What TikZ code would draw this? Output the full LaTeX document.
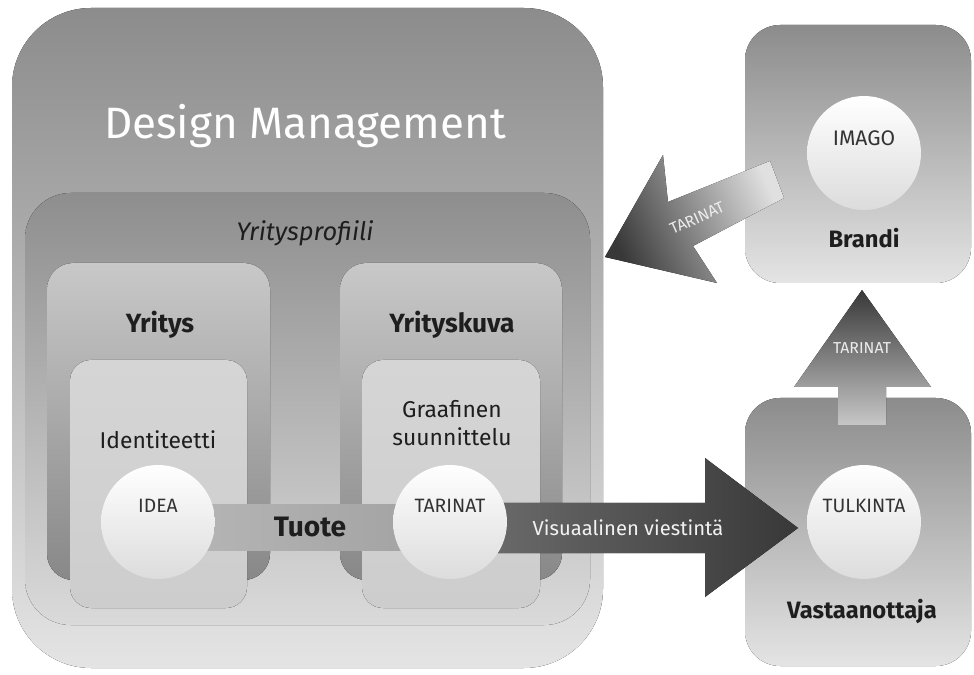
\documentclass[tikz,border=0pt]{standalone}
\usepackage{fontspec}
\setmainfont{Fira Sans}
\usetikzlibrary{calc}

\definecolor{dmTop}{HTML}{8C8C8C}
\definecolor{dmBot}{HTML}{E4E4E4}
\definecolor{profTop}{HTML}{8E8E8E}
\definecolor{profBot}{HTML}{DADADA}
\definecolor{colTop}{HTML}{C8C8C8}
\definecolor{colBot}{HTML}{888888}
\definecolor{inTop}{HTML}{D5D5D5}
\definecolor{inBot}{HTML}{CDCDCD}
\definecolor{ballBot}{HTML}{DCDCDC}
\definecolor{txtDark}{HTML}{1E1E1E}
\definecolor{txtBall}{HTML}{333333}

\begin{document}
\begin{tikzpicture}[x=0.02cm, y=-0.02cm,
  bigbox/.style={rounded corners=45pt, top color=dmTop, bottom color=dmBot},
  profbox/.style={rounded corners=26pt, top color=profTop, bottom color=profBot},
  colbox/.style={rounded corners=15pt, top color=colTop, bottom color=colBot},
  innerbox/.style={rounded corners=12pt, top color=inTop, bottom color=inBot},
  sidebox/.style={rounded corners=20pt, top color=dmTop, bottom color=dmBot},
  ball/.style={circle, minimum size=2.28cm, inner sep=0pt, top color=white, bottom color=ballBot},
  balltext/.style={text=txtBall, font=\fontsize{11}{13}\selectfont},
  heading/.style={text=txtDark, font=\bfseries\fontsize{15}{18}\selectfont},
  subheading/.style={text=txtDark, font=\fontsize{13}{15.5}\selectfont, align=center},
  arrowtext/.style={text=white!85!gray, font=\fontsize{9}{11}\selectfont}]
  \useasboundingbox (0,0) rectangle (974,675);

  % Design Management and the company profile
  \fill[bigbox] (12,8) rectangle (603,668);
  \node[text=white, font=\fontsize{25}{30}\selectfont] (dm) at (305,126) {Design Management};
  \fill[profbox] (25,193) rectangle (590,625);
  \node[text=txtDark, font=\itshape\fontsize{14.5}{17}\selectfont] (profiili) at (305,233) {Yritysprofiili};

  % the two columns
  \fill[colbox] (47,263) rectangle (270,580);
  \fill[colbox] (340,263) rectangle (562,580);
  \fill[innerbox] (70,360) rectangle (247,608);
  \fill[innerbox] (362,360) rectangle (540,608);
  \node[heading] (yritys) at (160,325) {Yritys};
  \node[heading] (kuva) at (452,325) {Yrityskuva};
  \node[subheading] (identiteetti) at (158,440) {Identiteetti};
  \node[subheading] (graafinen) at (452,423) {Graafinen\\suunnittelu};

  % Brandi and Vastaanottaja
  \fill[sidebox] (745,25) rectangle (971,283);
  \fill[sidebox] (745,398) rectangle (971,666);

  \coordinate (ideaC) at (158,522);
  \coordinate (tarinatC) at (450,522);
  \coordinate (tulkintaC) at (864,522);
  \coordinate (imagoC) at (864,153);

  % Tuote
  \fill[left color=white!72!black, right color=white!63!black]
    ($(ideaC)+(0,-17)$) rectangle ($(tarinatC)+(0,28)$);
  \node[heading, font=\bfseries\fontsize{16}{19}\selectfont] (tuote) at (310,527) {Tuote};

  % Visuaalinen viestinta
  \coordinate (vis-tip) at (798,528);
  \fill[left color=white!44!black, right color=white!22!black]
    ($(tarinatC)+(0,-19)$) -- (705,503) -- (705,458) -- (vis-tip)
    -- (705,597) -- (705,553) -- ($(tarinatC)+(0,31)$) -- cycle;
  \node[text=white!90!gray, font=\fontsize{11.5}{14}\selectfont] (visu) at (628,528) {Visuaalinen viestintä};

  % TARINAT up to Brandi
  \coordinate (up-tip) at (862,290);
  \fill[top color=white!22!black, bottom color=white!78!black]
    (up-tip) -- (931,387) -- (886,387) -- (886,425) -- (838,425) -- (838,387) -- (794,387) -- cycle;
  \node[arrowtext] (tarinat2) at (862,348) {TARINAT};

  % TARINAT back to Design Management
  \coordinate (back-tip) at (605,257);
  \fill[top color=white!88!black, bottom color=white!22!black, shading angle=-66]
    (back-tip) -- (663,155) -- (668,202) -- (770,161)
    -- (784,198) -- (693,246) -- (717,283) -- cycle;
  \node[arrowtext, rotate=24] (tarinat3) at (697,218) {TARINAT};

  % circles
  \node[ball] (idea) at (ideaC) {};
  \node[ball] (tarinat) at (tarinatC) {};
  \node[ball] (tulkinta) at (tulkintaC) {};
  \node[ball] (imago) at (imagoC) {};
  \node[balltext] (idealbl) at ($(ideaC)+(0,-16)$) {IDEA};
  \node[balltext] (tarinatlbl) at ($(tarinatC)+(0,-16)$) {TARINAT};
  \node[balltext] (tulkintalbl) at ($(tulkintaC)+(0,-16)$) {TULKINTA};
  \node[balltext, font=\fontsize{12}{14}\selectfont] (imagolbl) at ($(imagoC)+(0,-15)$) {IMAGO};

  \node[heading, font=\bfseries\fontsize{13.5}{16}\selectfont] (brandi) at (864,238) {Brandi};
  \node[heading, font=\bfseries\fontsize{13.5}{16}\selectfont] (vastaanottaja) at (862,612) {Vastaanottaja};
\end{tikzpicture}
\end{document}
